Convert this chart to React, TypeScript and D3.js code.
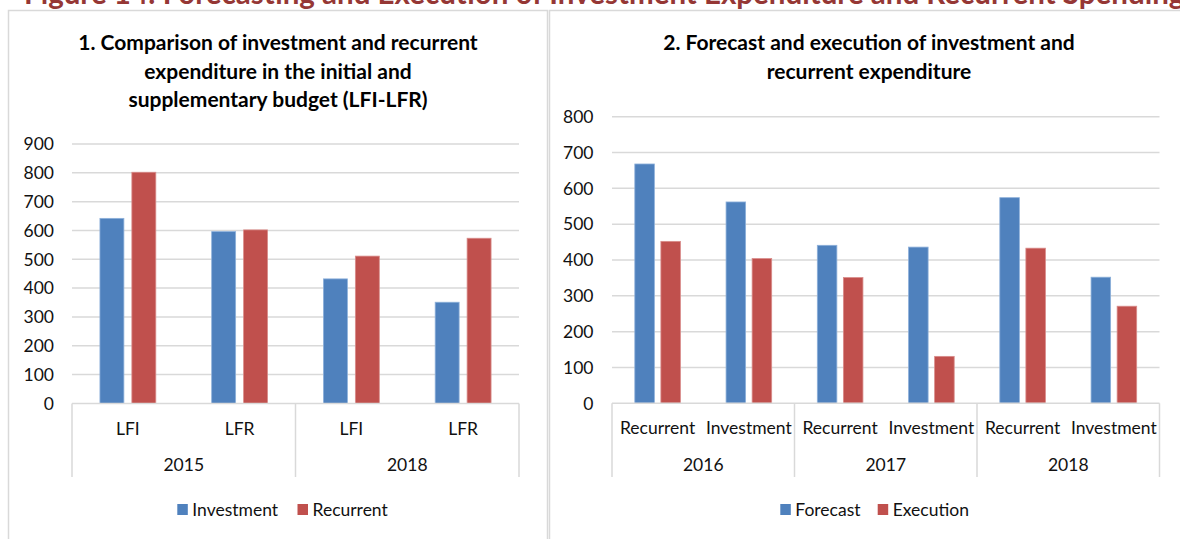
import React from 'react';
import * as d3 from 'd3';

const mainTitle = 'Figure 14: Forecasting and Execution of Investment Expenditure and Recurrent Spending';

const leftTitle = ['1. Comparison of investment and recurrent', 'expenditure in the initial and', 'supplementary budget (LFI-LFR)'];
const leftYears = ['2015', '2018'];
const leftCats = ['LFI', 'LFR', 'LFI', 'LFR'];
const leftSeries = ['Investment', 'Recurrent'];
const leftInvestment = [642, 596, 432, 351];
const leftRecurrent = [802, 602, 511, 573];
const leftTicks = [0, 100, 200, 300, 400, 500, 600, 700, 800, 900];

const rightTitle = ['2. Forecast and execution of investment and', 'recurrent expenditure'];
const rightYears = ['2016', '2017', '2018'];
const rightCats = ['Recurrent', 'Investment', 'Recurrent', 'Investment', 'Recurrent', 'Investment'];
const rightSeries = ['Forecast', 'Execution'];
const rightForecast = [668, 562, 441, 436, 574, 352];
const rightExecution = [452, 404, 351, 131, 433, 271];
const rightTicks = [0, 100, 200, 300, 400, 500, 600, 700, 800];

const BLUE = '#4F81BD';
const RED = '#C0504D';
const BLUE_EDGE = '#8DB0DA';
const RED_EDGE = '#D98C8A';
const GRID = '#D9D9D9';
const FONT = "Lato, 'Open Sans', sans-serif";
const TXT = '#111';
const LBL = 17.5;

type PanelProps = {
  title: string[];
  titleCx: number;
  titleY: number[];
  years: string[];
  cats: string[];
  series: string[];
  values: number[][];
  ticks: number[];
  x0: number;
  x1: number;
  y0: number;
  yTop: number;
  tickRight: number;
  catY: number;
  yearY: number;
  axisBottom: number;
  legendX: number[];
  legendY: number;
};

function Panel(p: PanelProps) {
  const maxTick = p.ticks[p.ticks.length - 1];
  const y = d3.scaleLinear().domain([0, maxTick]).range([p.y0, p.yTop]);
  const idx = p.cats.map((_, i) => String(i));
  const x = d3.scaleBand<string>().domain(idx).range([p.x0, p.x1]).padding(0);
  const bw = x.bandwidth();
  const perYear = p.cats.length / p.years.length;
  const colors = [BLUE, RED];
  const edges = [BLUE_EDGE, RED_EDGE];
  const dividers = d3.range(p.years.length + 1).map((k) => p.x0 + k * perYear * bw);
  return (
    <g>
      {p.title.map((t, i) => (
        <text key={'t' + i} x={p.titleCx} y={p.titleY[i]} textAnchor="middle" fontFamily={FONT} fontWeight="bold" fontSize={21} fill="#000">
          {t}
        </text>
      ))}
      {p.ticks.map((t) => (
        <g key={'g' + t}>
          {t > 0 && <line x1={p.x0} x2={p.x1} y1={y(t)} y2={y(t)} stroke={GRID} strokeWidth={1.5} />}
          <text x={p.tickRight} y={y(t)} dy="0.36em" textAnchor="end" fontFamily={FONT} fontSize={LBL} fill={TXT}>
            {t}
          </text>
        </g>
      ))}
      {p.cats.map((c, i) => {
        const start = x(String(i))!;
        const inner = d3.scaleBand<string>().domain(p.series).range([start + bw * 0.25, start + bw * 0.75]).paddingInner(0.25).paddingOuter(0);
        return (
          <g key={'c' + i}>
            {p.series.map((s, j) => {
              const v = p.values[j][i];
              return (
                <rect key={s} x={inner(s)} y={y(v)} width={inner.bandwidth()} height={y(0) - y(v)} fill={colors[j]} stroke={edges[j]} strokeWidth={0.8} />
              );
            })}
            <text x={start + bw / 2} y={p.catY} dy="0.36em" textAnchor="middle" fontFamily={FONT} fontSize={LBL} fill={TXT}>
              {c}
            </text>
          </g>
        );
      })}
      <line x1={p.x0} x2={p.x1} y1={p.y0} y2={p.y0} stroke={GRID} strokeWidth={1.5} />
      {dividers.map((dx, k) => (
        <line key={'d' + k} x1={dx} x2={dx} y1={p.y0} y2={p.axisBottom} stroke={GRID} strokeWidth={1.5} />
      ))}
      {p.years.map((yr, k) => (
        <text key={'y' + k} x={(dividers[k] + dividers[k + 1]) / 2} y={p.yearY} dy="0.36em" textAnchor="middle" fontFamily={FONT} fontSize={LBL} fill={TXT}>
          {yr}
        </text>
      ))}
      {p.series.map((s, j) => (
        <g key={'l' + s}>
          <rect x={p.legendX[j]} y={p.legendY - 5.5} width={10.5} height={11} fill={colors[j]} />
          <text x={p.legendX[j] + 15} y={p.legendY} dy="0.36em" fontFamily={FONT} fontSize={LBL} fill={TXT}>
            {s}
          </text>
        </g>
      ))}
    </g>
  );
}

export default function App() {
  return (
    <svg width={1180} height={539} style={{ position: 'absolute', left: 0, top: 0, background: '#fff' }}>
      <rect x={0} y={0} width={1180} height={539} fill="#fff" />
      <text x={24} y={4} fontFamily={FONT} fontWeight="bold" fontSize={29.5} fill="#953735">
        {mainTitle}
      </text>
      <rect x={8.5} y={10.5} width={539} height={540} fill="none" stroke={GRID} strokeWidth={1.5} />
      <rect x={549.5} y={10.5} width={650} height={540} fill="none" stroke={GRID} strokeWidth={1.5} />
      <Panel
        title={leftTitle}
        titleCx={278}
        titleY={[50, 78.5, 107]}
        years={leftYears}
        cats={leftCats}
        series={leftSeries}
        values={[leftInvestment, leftRecurrent]}
        ticks={leftTicks}
        x0={72}
        x1={519}
        y0={403.4}
        yTop={144}
        tickRight={54}
        catY={428.5}
        yearY={465}
        axisBottom={477}
        legendX={[177.3, 297.5]}
        legendY={509.5}
      />
      <Panel
        title={rightTitle}
        titleCx={869}
        titleY={[50, 78.5]}
        years={rightYears}
        cats={rightCats}
        series={rightSeries}
        values={[rightForecast, rightExecution]}
        ticks={rightTicks}
        x0={612}
        x1={1159.5}
        y0={403.3}
        yTop={116.7}
        tickRight={593.5}
        catY={427.5}
        yearY={465}
        axisBottom={477}
        legendX={[780.3, 877.7]}
        legendY={509.5}
      />
    </svg>
  );
}
